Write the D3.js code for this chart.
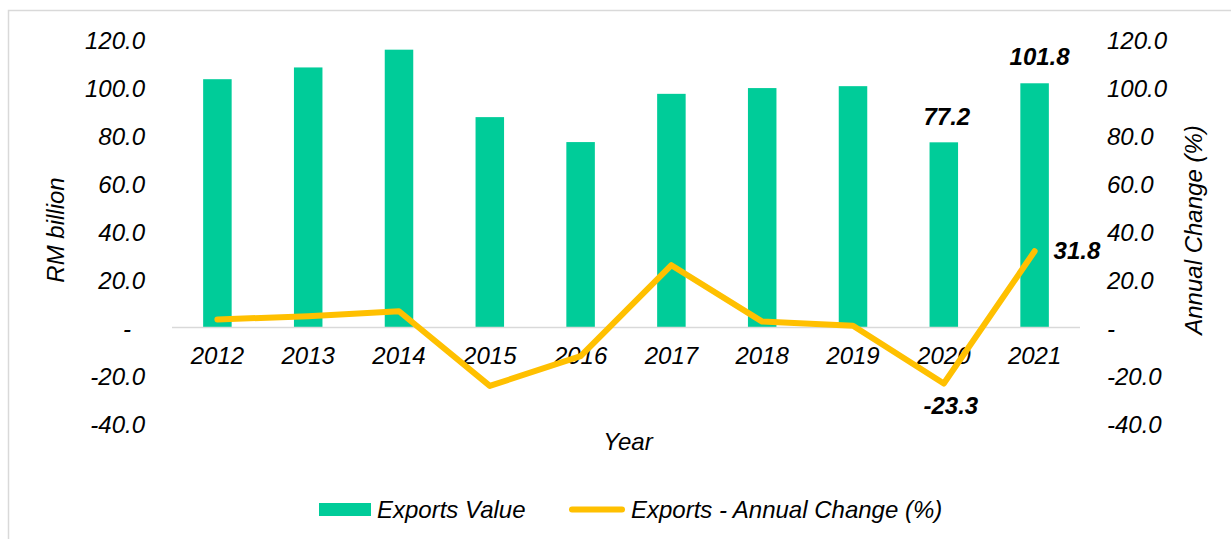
<!DOCTYPE html>
<html>
<head>
<meta charset="utf-8">
<script src="https://cdn.jsdelivr.net/npm/d3@7"></script>
<style>
  body { margin: 0; background: #fff; }
  svg text { font-family: "Liberation Sans", Arial, sans-serif; font-style: italic; }
</style>
</head>
<body>
<div id="chart"></div>
<script>
// data
var years = ["2012", "2013", "2014", "2015", "2016", "2017", "2018", "2019", "2020", "2021"];
var exportsValue = [103.5, 108.4, 115.8, 87.7, 77.3, 97.4, 99.8, 100.6, 77.2, 101.8];
var annualChange = [3.4, 4.7, 6.8, -24.3, -11.9, 26.0, 2.5, 0.8, -23.3, 31.8];
var axisTicks = [-40, -20, 0, 20, 40, 60, 80, 100, 120];

var svgWidth = 1231;
var svgHeight = 539;
var fontSize = "24px";

var svg = d3.select("#chart")
  .append("svg")
  .attr("width", svgWidth)
  .attr("height", svgHeight);

// chart area border (top + left visible)
svg.append("path")
  .attr("d", "M8.5,539 V10.5 H1231")
  .attr("fill", "none")
  .attr("stroke", "#d9d9d9")
  .attr("stroke-width", 1.5);

// scales
var xScale = d3.scaleBand()
  .domain(years)
  .range([172, 1080])
  .paddingInner(0.686)
  .paddingOuter(0.343);

var yScale = d3.scaleLinear()
  .domain([-40, 120])
  .range([423.6, 39.6]);

// right axis uses the same range as the left one
var y2Scale = d3.scaleLinear()
  .domain([-40, 120])
  .range([423.6, 39.6]);

// excel-style labels: "-" for zero, plain hyphen for negatives
var fmt = function(d) { return d === 0 ? "-" : d.toFixed(1); };

// left axis
var leftAxis = svg.append("g")
  .attr("transform", "translate(145,0)")
  .call(d3.axisLeft(yScale).tickValues(axisTicks).tickSize(0).tickPadding(0).tickFormat(fmt));
leftAxis.select(".domain").remove();
leftAxis.selectAll("text")
  .attr("font-size", fontSize)
  .attr("fill", "#000")
  .attr("x", d => d === 0 ? -14 : 0)
  .attr("dy", "0.35em")
  .style("font-family", "'Liberation Sans', Arial, sans-serif");

// right axis
var rightAxis = svg.append("g")
  .attr("transform", "translate(1106,0)")
  .call(d3.axisRight(y2Scale).tickValues(axisTicks).tickSize(0).tickPadding(1).tickFormat(fmt));
rightAxis.select(".domain").remove();
rightAxis.selectAll("text")
  .attr("font-size", fontSize)
  .attr("fill", "#000")
  .attr("dy", "0.35em")
  .style("font-family", "'Liberation Sans', Arial, sans-serif");

// bars
svg.append("g").selectAll("rect")
  .data(exportsValue)
  .enter()
  .append("rect")
  .attr("x", (d, i) => xScale(years[i]))
  .attr("y", d => yScale(d))
  .attr("width", xScale.bandwidth())
  .attr("height", d => yScale(0) - yScale(d))
  .attr("fill", "#00cc99");

// zero line
svg.append("line")
  .attr("x1", 172)
  .attr("x2", 1080)
  .attr("y1", yScale(0))
  .attr("y2", yScale(0))
  .attr("stroke", "#d9d9d9")
  .attr("stroke-width", 1.5);

// year labels
svg.append("g").selectAll("text")
  .data(years)
  .enter()
  .append("text")
  .attr("x", d => xScale(d) + xScale.bandwidth() / 2)
  .attr("y", 364)
  .attr("text-anchor", "middle")
  .attr("font-size", fontSize)
  .attr("fill", "#000")
  .text(d => d);

// annual change line
var line = d3.line()
  .x((d, i) => xScale(years[i]) + xScale.bandwidth() / 2)
  .y(d => y2Scale(d));

svg.append("path")
  .datum(annualChange)
  .attr("d", line)
  .attr("fill", "none")
  .attr("stroke", "#ffc000")
  .attr("stroke-width", 6)
  .attr("stroke-linecap", "round")
  .attr("stroke-linejoin", "round");

// data labels
var cx = function(i) { return xScale(years[i]) + xScale.bandwidth() / 2; };

svg.append("text")
  .attr("x", cx(8) + 3)
  .attr("y", yScale(exportsValue[8]) - 17)
  .attr("text-anchor", "middle")
  .attr("font-size", fontSize)
  .attr("font-weight", "bold")
  .text(exportsValue[8].toFixed(1));

svg.append("text")
  .attr("x", cx(9) + 5)
  .attr("y", yScale(exportsValue[9]) - 18)
  .attr("text-anchor", "middle")
  .attr("font-size", fontSize)
  .attr("font-weight", "bold")
  .text(exportsValue[9].toFixed(1));

svg.append("text")
  .attr("x", cx(9) + 19)
  .attr("y", y2Scale(annualChange[9]) + 8)
  .attr("text-anchor", "start")
  .attr("font-size", fontSize)
  .attr("font-weight", "bold")
  .text(annualChange[9].toFixed(1));

svg.append("text")
  .attr("x", cx(8) + 7)
  .attr("y", y2Scale(annualChange[8]) + 30)
  .attr("text-anchor", "middle")
  .attr("font-size", fontSize)
  .attr("font-weight", "bold")
  .text(annualChange[8].toFixed(1));

// axis titles
svg.append("text")
  .attr("transform", "translate(64,230) rotate(-90)")
  .attr("text-anchor", "middle")
  .attr("font-size", fontSize)
  .text("RM billion");

svg.append("text")
  .attr("transform", "translate(1202,230) rotate(-90)")
  .attr("text-anchor", "middle")
  .attr("font-size", fontSize)
  .text("Annual Change (%)");

svg.append("text")
  .attr("x", 628)
  .attr("y", 450)
  .attr("text-anchor", "middle")
  .attr("font-size", fontSize)
  .text("Year");

// legend
var legend = svg.append("g");
legend.append("rect")
  .attr("x", 319)
  .attr("y", 503)
  .attr("width", 52)
  .attr("height", 13)
  .attr("fill", "#00cc99");
legend.append("text")
  .attr("x", 377)
  .attr("y", 518)
  .attr("font-size", fontSize)
  .text("Exports Value");
legend.append("line")
  .attr("x1", 572)
  .attr("x2", 622)
  .attr("y1", 509.5)
  .attr("y2", 509.5)
  .attr("stroke", "#ffc000")
  .attr("stroke-width", 6)
  .attr("stroke-linecap", "round");
legend.append("text")
  .attr("x", 631)
  .attr("y", 518)
  .attr("font-size", fontSize)
  .text("Exports - Annual Change (%)");
</script>
</body>
</html>
